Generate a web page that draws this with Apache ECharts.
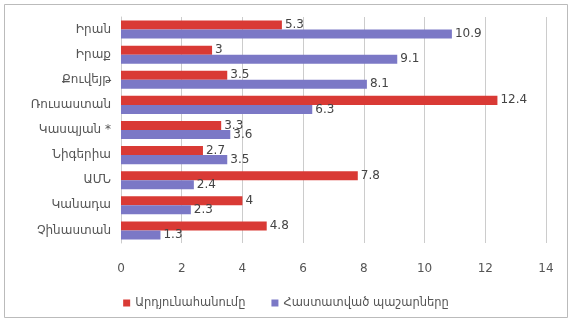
<!DOCTYPE html>
<html><head><meta charset="utf-8">
<script src="https://cdn.jsdelivr.net/npm/echarts@6/dist/echarts.min.js"></script>
<style>html,body{margin:0;padding:0;background:#fff}#c{width:572px;height:323px}</style>
</head><body><div id="c"></div>
<script>
const categories = ['Իրան','Իրաք','Քուվեյթ','Ռուսաստան','Կասպյան *','Նիգերիա','ԱՄՆ','Կանադա','Չինաստան'];
const production = [5.3, 3, 3.5, 12.4, 3.3, 2.7, 7.8, 4, 4.8];
const reserves = [10.9, 9.1, 8.1, 6.3, 3.6, 3.5, 2.4, 2.3, 1.3];
const seriesNames = ['Արդյունահանումը','Հաստատված պաշարները'];
const xTicks = {min:0, max:14, interval:2};

const chart = echarts.init(document.getElementById('c'));
const lbl = {show:true, position:'right', distance:3, color:'#444', fontSize:12, fontFamily:'DejaVu Sans'};
chart.setOption({
  animation:false,
  graphic:[{type:'rect', shape:{x:4.5,y:4.5,width:563,height:313}, style:{fill:'none', stroke:'#bbb', lineWidth:1}}],
  grid:{left:121, right:26, top:17, bottom:80},
  legend:{bottom:9, left:'center', itemWidth:7, itemHeight:7, itemGap:26, icon:'rect',
    textStyle:{color:'#555', fontSize:11.5, fontFamily:'DejaVu Sans'}},
  xAxis:{type:'value', min:xTicks.min, max:xTicks.max, interval:xTicks.interval,
    axisLine:{show:false}, axisTick:{show:false},
    axisLabel:{color:'#555', fontSize:12, margin:20, fontFamily:'DejaVu Sans'},
    splitLine:{lineStyle:{color:'#ccc'}}},
  yAxis:{type:'category', data:categories, inverse:true,
    axisLine:{show:true, lineStyle:{color:'#ccc'}}, axisTick:{show:false},
    axisLabel:{color:'#555', fontSize:12, margin:10, fontFamily:'DejaVu Sans'}},
  series:[
    {name:seriesNames[0], type:'bar', data:production, itemStyle:{color:'#d93a35'}, barGap:'0%', barCategoryGap:'28%', label:lbl},
    {name:seriesNames[1], type:'bar', data:reserves, itemStyle:{color:'#7b78c6'}, label:lbl}
  ]
});
</script></body></html>
